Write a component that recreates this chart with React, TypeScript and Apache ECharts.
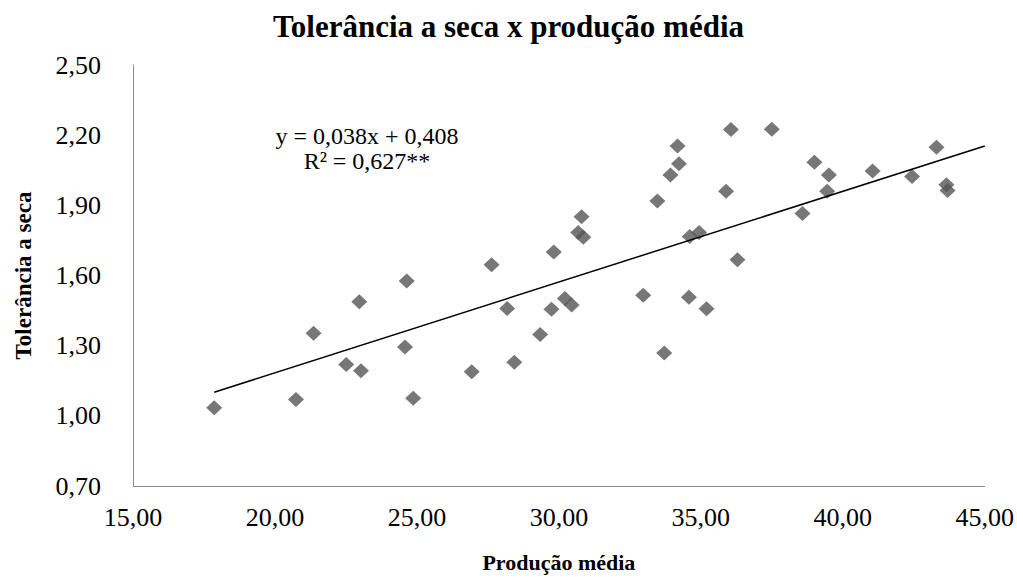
import React, { useEffect, useRef } from "react";
import * as echarts from "echarts";

const titleText = "Tolerância a seca x produção média";
const xAxisName = "Produção média";
const yAxisName = "Tolerância a seca";
const equationLines = ["y = 0,038x + 0,408", "R² = 0,627**"];

const producaoMedia = [
  17.86, 20.74, 21.36, 22.97, 24.64, 22.51, 23.03, 24.58, 24.87, 27.63, 28.18,
  26.93, 28.43, 29.82, 29.74, 29.34, 30.21, 30.45, 30.8, 30.68, 30.86, 32.97,
  33.47, 33.71, 34.18, 34.23, 33.93, 34.58, 35.2, 34.61, 34.94, 35.89, 36.06,
  36.29, 37.5, 38.58, 39.0, 39.51, 39.45, 41.05, 42.44, 43.3, 43.65, 43.69,
];
const toleranciaSeca = [
  1.035, 1.07, 1.353, 1.488, 1.576, 1.219, 1.193, 1.294, 1.075, 1.646, 1.459,
  1.188, 1.229, 1.7, 1.456, 1.348, 1.502, 1.474, 1.851, 1.784, 1.764, 1.516,
  1.918, 1.269, 2.154, 2.078, 2.03, 1.507, 1.458, 1.767, 1.784, 1.96, 2.224,
  1.667, 2.225, 1.865, 2.084, 2.03, 1.96, 2.047, 2.023, 2.148, 1.988, 1.963,
];

const trendSlope = 0.0388;
const trendIntercept = 0.408;
const trendX = [Math.min(...producaoMedia), 45];

const xTicks = [15, 20, 25, 30, 35, 40, 45];
const yTicks = [0.7, 1.0, 1.3, 1.6, 1.9, 2.2, 2.5];

const fmt = (v: number) => v.toFixed(2).replace(".", ",");
const FONT = "'Liberation Serif', 'Times New Roman', serif";

export default function App() {
  const ref = useRef<HTMLDivElement>(null);
  useEffect(() => {
    if (!ref.current) return;
    const chart = echarts.init(ref.current, null, { renderer: "svg" });
    const scatterData = producaoMedia.map((x, i) => [x, toleranciaSeca[i]]);
    const trendData = trendX.map((x) => [x, trendSlope * x + trendIntercept]);
    chart.setOption({
      animation: false,
      backgroundColor: "#ffffff",
      title: {
        text: titleText,
        left: "center",
        top: 6,
        textStyle: {
          fontFamily: FONT,
          fontWeight: "bold",
          fontSize: 31,
          color: "#000",
        },
      },
      grid: { left: 133, right: 32, top: 65, bottom: 83, containLabel: false },
      xAxis: {
        type: "value",
        min: 15,
        max: 45,
        interval: 5,
        name: xAxisName,
        nameLocation: "middle",
        nameGap: 65,
        nameTextStyle: {
          fontFamily: FONT,
          fontWeight: "bold",
          fontSize: 22,
          color: "#000",
        },
        axisLine: { show: true, lineStyle: { color: "#8c8c8c", width: 1 } },
        axisTick: { show: false },
        splitLine: { show: false },
        axisLabel: {
          customValues: xTicks,
          formatter: (v: number) => fmt(v),
          fontFamily: FONT,
          fontSize: 26,
          color: "#000",
          margin: 18,
        },
      },
      yAxis: {
        type: "value",
        min: 0.7,
        max: 2.5,
        name: yAxisName,
        nameLocation: "middle",
        nameRotate: 90,
        nameGap: 98,
        nameTextStyle: {
          fontFamily: FONT,
          fontWeight: "bold",
          fontSize: 23,
          color: "#000",
        },
        axisLine: { show: true, lineStyle: { color: "#8c8c8c", width: 1 } },
        axisTick: { show: false },
        splitLine: { show: false },
        axisLabel: {
          customValues: yTicks,
          formatter: (v: number) => fmt(v),
          fontFamily: FONT,
          fontSize: 26,
          color: "#000",
          margin: 32,
        },
      },
      graphic: [
        {
          type: "text",
          x: 367,
          y: 136,
          style: {
            text: equationLines[0],
            fontFamily: FONT,
            fontSize: 24,
            fill: "#000",
            align: "center",
            verticalAlign: "middle",
          },
        },
        {
          type: "text",
          x: 367,
          y: 161,
          style: {
            text: equationLines[1],
            fontFamily: FONT,
            fontSize: 24,
            fill: "#000",
            align: "center",
            verticalAlign: "middle",
          },
        },
      ],
      series: [
        {
          type: "scatter",
          data: scatterData,
          symbol: "diamond",
          symbolSize: [16, 15],
          itemStyle: { color: "#555555" },
          z: 2,
        },
        {
          type: "line",
          data: trendData,
          showSymbol: false,
          symbol: "none",
          lineStyle: { color: "#000", width: 1.5 },
          z: 3,
        },
      ],
    });
    return () => chart.dispose();
  }, []);
  return (
    <div
      ref={ref}
      style={{ position: "fixed", left: 0, top: 0, width: 1017, height: 578 }}
    />
  );
}
